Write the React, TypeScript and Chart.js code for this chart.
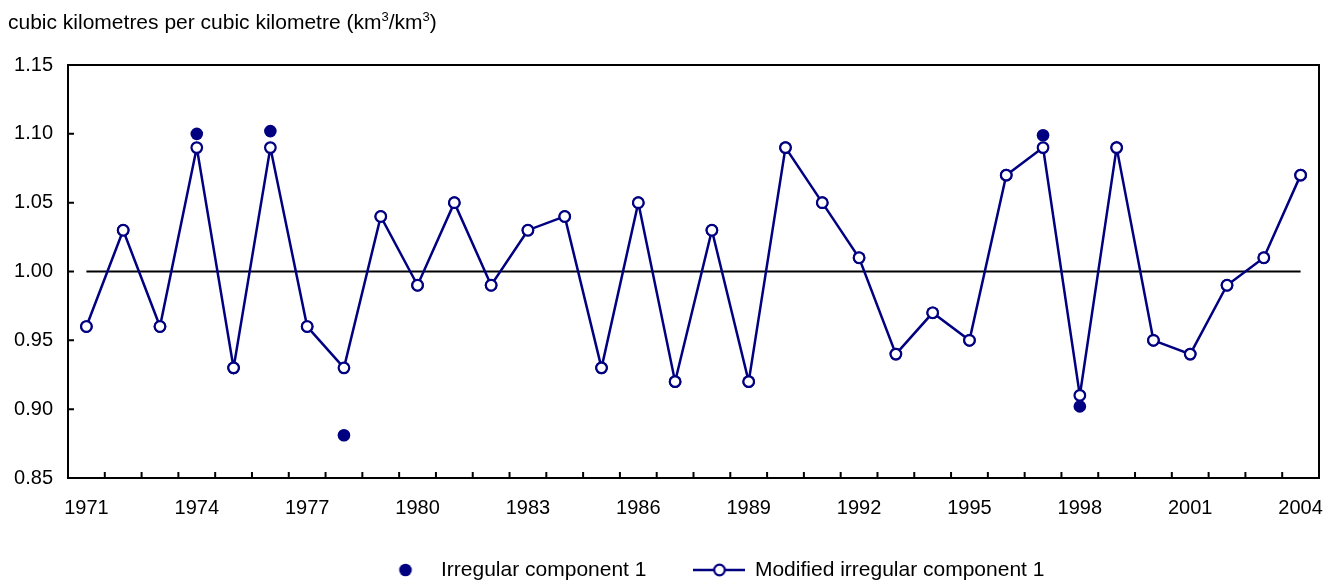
import React, { useEffect, useRef } from "react";
import { Chart, registerables } from "chart.js";

Chart.register(...registerables);

const YEARS = [
  "1971", "1972", "1973", "1974", "1975", "1976", "1977", "1978", "1979", "1980",
  "1981", "1982", "1983", "1984", "1985", "1986", "1987", "1988", "1989", "1990",
  "1991", "1992", "1993", "1994", "1995", "1996", "1997", "1998", "1999", "2000",
  "2001", "2002", "2003", "2004",
];

const TICK_YEARS = ["1971", "1974", "1977", "1980", "1983", "1986", "1989", "1992", "1995", "1998", "2001", "2004"];

const IRREGULAR = [
  0.96, 1.03, 0.96, 1.1, 0.93, 1.102, 0.96, 0.881, 1.04, 0.99,
  1.05, 0.99, 1.03, 1.04, 0.93, 1.05, 0.92, 1.03, 0.92, 1.09,
  1.05, 1.01, 0.94, 0.97, 0.95, 1.07, 1.099, 0.902, 1.09, 0.95,
  0.94, 0.99, 1.01, 1.07,
];

const MODIFIED_IRREGULAR = [
  0.96, 1.03, 0.96, 1.09, 0.93, 1.09, 0.96, 0.93, 1.04, 0.99,
  1.05, 0.99, 1.03, 1.04, 0.93, 1.05, 0.92, 1.03, 0.92, 1.09,
  1.05, 1.01, 0.94, 0.97, 0.95, 1.07, 1.09, 0.91, 1.09, 0.95,
  0.94, 0.99, 1.01, 1.07,
];

const SERIES_LABELS = ["Irregular component 1", "Modified irregular component 1"];

const Y_MIN = 0.85;
const Y_MAX = 1.15;
const Y_STEP = 0.05;
const REFERENCE_LEVEL = 1.0;

const NAVY = "#000080";
const FONT = "'Liberation Sans', Arial, Helvetica, sans-serif";
const TICK_FONT_SIZE = 20;
const LEGEND_FONT_SIZE = 21;
const LEGEND_PADDING = 48;
const LEGEND_MAX_HEIGHT = 20;
const LEGEND_START_X = 380.5;
const LEGEND_TEXT_Y = 570;
const PLOT_LEFT = 68;
const PLOT_TOP = 65;
const PLOT_RIGHT_PAD = 19;
const PLOT_BOTTOM = 478;
const TICK_LEN = 6;

function makeDotMarker(): HTMLCanvasElement {
  const c = document.createElement("canvas");
  c.width = 50;
  c.height = 20;
  const g = c.getContext("2d")!;
  g.fillStyle = NAVY;
  g.beginPath();
  g.arc(25, 10, 6.3, 0, Math.PI * 2);
  g.fill();
  return c;
}

function makeLineMarker(): HTMLCanvasElement {
  const c = document.createElement("canvas");
  c.width = 52;
  c.height = 20;
  const g = c.getContext("2d")!;
  g.strokeStyle = NAVY;
  g.lineWidth = 2.5;
  g.beginPath();
  g.moveTo(0, 10);
  g.lineTo(52, 10);
  g.stroke();
  g.lineWidth = 2.2;
  g.fillStyle = "#ffffff";
  g.beginPath();
  g.arc(26, 10, 5.3, 0, Math.PI * 2);
  g.fill();
  g.stroke();
  return c;
}

const framePlugin = {
  id: "frameAndTicks",
  afterLayout(chart: any) {
    const lg = chart.legend;
    if (!lg) return;
    const P = LEGEND_PADDING;
    lg.left = LEGEND_START_X - P;
    lg.right = chart.width;
    lg.width = lg.right - lg.left;
    lg.top = LEGEND_TEXT_Y - LEGEND_FONT_SIZE / 2 - P;
    lg.height = P + LEGEND_FONT_SIZE + 12;
    lg.bottom = lg.top + lg.height;
  },
  beforeDatasetsDraw(chart: any) {
    const { ctx, chartArea: a, scales } = chart;
    const x = scales.x;
    const y = scales.y;
    ctx.save();
    ctx.strokeStyle = "#000000";
    ctx.lineWidth = 2;
    // reference line at 1.00
    const yy = y.getPixelForValue(REFERENCE_LEVEL);
    ctx.beginPath();
    ctx.moveTo(x.getPixelForValue(0), yy);
    ctx.lineTo(x.getPixelForValue(YEARS.length - 1), yy);
    ctx.stroke();
    // frame
    ctx.strokeRect(a.left, a.top, a.right - a.left, a.bottom - a.top);
    // inward ticks
    ctx.beginPath();
    for (let i = 1; i < YEARS.length; i++) {
      const px = (x.getPixelForValue(i - 1) + x.getPixelForValue(i)) / 2;
      ctx.moveTo(px, a.bottom);
      ctx.lineTo(px, a.bottom - TICK_LEN);
    }
    y.ticks.forEach((_t: any, i: number) => {
      const py = y.getPixelForTick(i);
      ctx.moveTo(a.left, py);
      ctx.lineTo(a.left + TICK_LEN, py);
    });
    ctx.stroke();
    ctx.restore();
  },
};

export default function App() {
  const ref = useRef<HTMLCanvasElement>(null);

  useEffect(() => {
    if (!ref.current) return;
    Chart.defaults.font.family = FONT;
    Chart.defaults.color = "#000000";
    const dot = makeDotMarker();
    const lineMarker = makeLineMarker();

    const chart = new Chart(ref.current, {
      type: "line",
      data: {
        labels: YEARS,
        datasets: [
          {
            label: SERIES_LABELS[0],
            data: IRREGULAR,
            showLine: false,
            order: 2,
            pointRadius: 6.3,
            pointHoverRadius: 6.3,
            pointBackgroundColor: NAVY,
            pointBorderColor: NAVY,
            pointBorderWidth: 0,
            borderColor: NAVY,
            backgroundColor: NAVY,
          },
          {
            label: SERIES_LABELS[1],
            data: MODIFIED_IRREGULAR,
            order: 1,
            borderColor: NAVY,
            borderWidth: 2.5,
            tension: 0,
            pointRadius: 5.3,
            pointHoverRadius: 5.3,
            pointBackgroundColor: "#ffffff",
            pointBorderColor: NAVY,
            pointBorderWidth: 2.2,
            backgroundColor: "#ffffff",
          },
        ],
      },
      options: {
        responsive: false,
        animation: false,
        layout: { padding: { top: PLOT_TOP, right: PLOT_RIGHT_PAD, left: 0, bottom: 0 } },
        plugins: {
          tooltip: { enabled: false },
          legend: {
            position: "bottom",
            align: "start",
            maxHeight: LEGEND_MAX_HEIGHT,
            labels: {
              usePointStyle: true,
              pointStyleWidth: 50,
              padding: LEGEND_PADDING,
              font: { size: LEGEND_FONT_SIZE, family: FONT },
              color: "#000000",
              generateLabels: () => [
                {
                  text: SERIES_LABELS[0],
                  pointStyle: dot as any,
                  fillStyle: NAVY,
                  strokeStyle: NAVY,
                  fontColor: "#000000",
                  lineWidth: 0,
                  hidden: false,
                  datasetIndex: 0,
                },
                {
                  text: SERIES_LABELS[1],
                  pointStyle: lineMarker as any,
                  fillStyle: "#ffffff",
                  strokeStyle: NAVY,
                  fontColor: "#000000",
                  lineWidth: 2,
                  hidden: false,
                  datasetIndex: 1,
                },
              ],
            },
          },
        },
        scales: {
          x: {
            type: "category",
            offset: true,
            grid: { display: false, drawTicks: false, offset: true },
            border: { display: false },
            ticks: {
              autoSkip: false,
              maxRotation: 0,
              minRotation: 0,
              padding: 18,
              color: "#000000",
              font: { size: TICK_FONT_SIZE, family: FONT },
              callback: (_v: any, i: number) => (TICK_YEARS.includes(YEARS[i]) ? YEARS[i] : ""),
            },
            afterFit: (s: any) => {
              const lgH = s.chart.legend ? s.chart.legend.height : 0;
              s.height = s.chart.height - PLOT_BOTTOM - lgH;
              s.paddingLeft = 0;
              s.paddingRight = 0;
            },
          },
          y: {
            min: Y_MIN,
            max: Y_MAX,
            grid: { display: false, drawTicks: false },
            border: { display: false },
            ticks: {
              stepSize: Y_STEP,
              padding: 15,
              color: "#000000",
              font: { size: TICK_FONT_SIZE, family: FONT },
              callback: (v: any) => Number(v).toFixed(2),
            },
            afterFit: (s: any) => {
              s.width = PLOT_LEFT;
            },
          },
        },
      },
      plugins: [framePlugin],
    } as any);

    return () => chart.destroy();
  }, []);

  return (
    <div
      style={{
        position: "fixed",
        left: 0,
        top: 0,
        width: 1338,
        height: 582,
        overflow: "hidden",
        background: "#ffffff",
        fontFamily: FONT,
      }}
    >
      <canvas ref={ref} width={1338} height={582} style={{ position: "absolute", left: 0, top: 0 }} />
      <div
        style={{
          position: "absolute",
          left: 8,
          top: 10,
          fontSize: 21,
          lineHeight: "normal",
          color: "#000000",
          whiteSpace: "nowrap",
        }}
      >
        cubic kilometres per cubic kilometre (km
        <sup style={{ fontSize: "0.62em", verticalAlign: "super", lineHeight: 0 }}>3</sup>/km
        <sup style={{ fontSize: "0.62em", verticalAlign: "super", lineHeight: 0 }}>3</sup>)
      </div>
    </div>
  );
}
